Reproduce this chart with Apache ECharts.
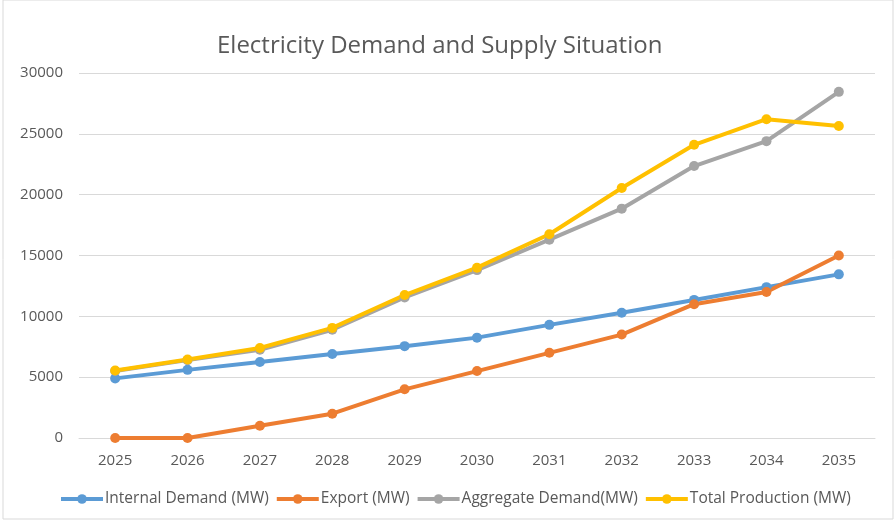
<!DOCTYPE html>
<html><head><meta charset="utf-8">
<script src="https://cdn.jsdelivr.net/npm/echarts@6/dist/echarts.min.js"></script>
<style>html,body{margin:0;padding:0;background:#fff}#c{width:896px;height:520px}</style>
</head><body><div id="c"></div>
<script>
const years = ['2025','2026','2027','2028','2029','2030','2031','2032','2033','2034','2035'];
const internalDemand = [4900, 5600, 6250, 6900, 7550, 8250, 9300, 10300, 11350, 12400, 13450];
const exportMW = [0, 0, 1000, 2000, 4000, 5500, 7000, 8500, 11000, 12000, 15000];
const aggregateDemand = [5500, 6400, 7250, 8900, 11550, 13800, 16300, 18850, 22350, 24400, 28450];
const totalProduction = [5550, 6450, 7400, 9050, 11750, 14000, 16750, 20550, 24100, 26200, 25650];
const seriesNames = ['Internal Demand (MW)','Export (MW)','Aggregate Demand(MW)','Total Production (MW)'];
const colors = ['#5B9BD5','#ED7D31','#A5A5A5','#FFC000'];
const font = '"Open Sans", "Liberation Sans", sans-serif';
const chart = echarts.init(document.getElementById('c'));
const mk = (name, data, color) => ({
  name, type:'line', data, symbol:'circle', symbolSize:10,
  lineStyle:{width:4,color}, itemStyle:{color}
});
chart.setOption({
  animation:false,
  color: colors,
  title:{text:'Electricity Demand and Supply Situation', left:212, top:29,
    textStyle:{fontFamily:font, fontSize:24, fontWeight:'normal', color:'#595959'}},
  grid:{left:79, right:21, top:73, bottom:82},
  legend:{top:486, left:54, itemWidth:42, itemHeight:12, itemGap:6,
    lineStyle:{width:4},
    textStyle:{fontFamily:font, fontSize:15.5, color:'#595959', padding:[0,0,0,-3]},
    data: seriesNames},
  xAxis:{type:'category', data:years, boundaryGap:true,
    axisLine:{lineStyle:{color:'#D9D9D9'}}, axisTick:{show:false},
    axisLabel:{fontFamily:font, fontSize:15, color:'#595959', margin:15}},
  yAxis:{type:'value', min:0, max:30000, interval:5000,
    axisLine:{show:false}, axisTick:{show:false},
    splitLine:{lineStyle:{color:'#D9D9D9', width:1}},
    axisLabel:{fontFamily:font, fontSize:15, color:'#595959', margin:16,
      formatter: v => String(v)}},
  graphic:[{type:'rect', shape:{x:3,y:0,width:890,height:519}, style:{fill:'none', stroke:'#D9D9D9', lineWidth:1}, silent:true}],
  series:[
    mk(seriesNames[0], internalDemand, colors[0]),
    mk(seriesNames[1], exportMW, colors[1]),
    mk(seriesNames[2], aggregateDemand, colors[2]),
    mk(seriesNames[3], totalProduction, colors[3])
  ]
});
</script></body></html>
